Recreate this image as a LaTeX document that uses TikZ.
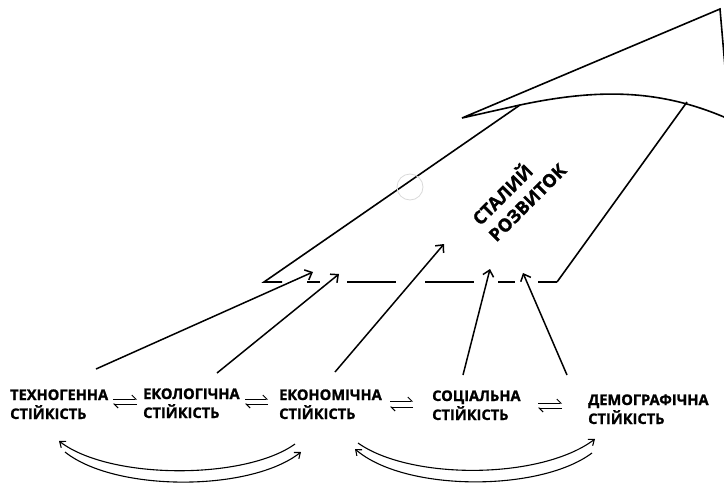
\documentclass[tikz,border=0pt]{standalone}
\usepackage{fontspec}
\setmainfont{Open Sans}[BoldFeatures={FakeBold=1.3}]
\usetikzlibrary{arrows.meta}
\begin{document}
\begin{tikzpicture}[x=1pt,y=-1pt,
  kite/.style={line width=1.6pt, line join=miter},
  link/.style={line width=1.5pt,-{Straight Barb[length=6pt,width=11pt]}},
  swing/.style={line width=1.1pt,-{Straight Barb[length=5pt,width=8pt]}},
  harp/.style={line width=1pt,-{Straight Barb[left,length=4pt,width=8pt]}},
  lbl/.style={font=\fontsize{14.6}{19}\selectfont\bfseries, align=left, inner sep=0pt, anchor=base west},
  ttl/.style={font=\fontsize{18}{23}\selectfont\bfseries, align=left, inner sep=0pt, rotate=45},
]
\useasboundingbox (0,0) rectangle (724,485);
\clip (0,0) rectangle (724,485);

% kite shape
\coordinate (tip) at (462,118);
\coordinate (joint) at (520,105);
\coordinate (top) at (720,9);
\coordinate (rexit) at (727,90);
\coordinate (cend) at (724,117);
\coordinate (bl) at (264,282);
\coordinate (br) at (557,282);
\coordinate (rj) at (687,102);
\draw[kite] (rexit) -- (top) -- (tip) -- (joint) .. controls (600,88) and (660,90) .. (cend) -- ++(8,4);
\draw[kite] (joint) -- (bl) -- (282,282);
\draw[kite] (br) -- (rj);
\draw[kite] (307,282) -- (320,282) (347,282) -- (396,282) (425,282) -- (474,282) (498,282) -- (515,282) (538,282) -- (br);
\draw[gray!30, line width=0.8pt] (410,187) circle[radius=13pt];

\node[ttl] (title) at (518,193) {СТАЛИЙ\\РОЗВИТОК};

% labels (anchor = baseline of the last line)
\node[lbl] (techno) at (10,419) {ТЕХНОГЕННА\\СТІЙКІСТЬ};
\node[lbl] (eco) at (143,418) {ЕКОЛОГІЧНА\\СТІЙКІСТЬ};
\node[lbl] (econ) at (279,419) {ЕКОНОМІЧНА\\СТІЙКІСТЬ};
\node[lbl] (social) at (432,420) {СОЦІАЛЬНА\\СТІЙКІСТЬ};
\node[lbl] (demo) at (588,424) {ДЕМОГРАФІЧНА\\СТІЙКІСТЬ};

% arrows to the kite
\coordinate (s1) at (96,369);  \coordinate (e1) at (313,272);
\coordinate (s2) at (217,373); \coordinate (e2) at (339,274);
\coordinate (s3) at (335,372); \coordinate (e3) at (444,244);
\coordinate (s4) at (463,375); \coordinate (e4) at (490,269);
\coordinate (s5) at (567,375); \coordinate (e5) at (523,273);
\draw[link] (s1) -- (e1);
\draw[link] (s2) -- (e2);
\draw[link] (s3) -- (e3);
\draw[link] (s4) -- (e4);
\draw[link] (s5) -- (e5);

% harpoon pairs
\coordinate (h1a) at (113,399); \coordinate (h1b) at (137,399);
\coordinate (h1c) at (137,404); \coordinate (h1d) at (113,404);
\coordinate (h2a) at (245,399); \coordinate (h2b) at (268,399);
\coordinate (h2c) at (268,404); \coordinate (h2d) at (245,404);
\coordinate (h3a) at (390,401); \coordinate (h3b) at (413,401);
\coordinate (h3c) at (413,407); \coordinate (h3d) at (390,407);
\coordinate (h4a) at (538,403); \coordinate (h4b) at (562,403);
\coordinate (h4c) at (562,408); \coordinate (h4d) at (538,408);
\foreach \i in {1,2,3,4} {
  \draw[harp] (h\i a) -- (h\i b);
  \draw[harp] (h\i c) -- (h\i d);
}

% curved arrows
\coordinate (c1s) at (295,444); \coordinate (c1e) at (59,441);
\coordinate (c2s) at (65,452);  \coordinate (c2e) at (301,452);
\coordinate (c3s) at (358,443); \coordinate (c3e) at (595,439);
\coordinate (c4s) at (592,453); \coordinate (c4e) at (355,449);
\draw[swing] (c1s) .. controls (245,480) and (110,480) .. (c1e);
\draw[swing] (c2s) .. controls (115,492) and (250,492) .. (c2e);
\draw[swing] (c3s) .. controls (410,480) and (540,480) .. (c3e);
\draw[swing] (c4s) .. controls (540,492) and (405,492) .. (c4e);
\end{tikzpicture}
\end{document}
